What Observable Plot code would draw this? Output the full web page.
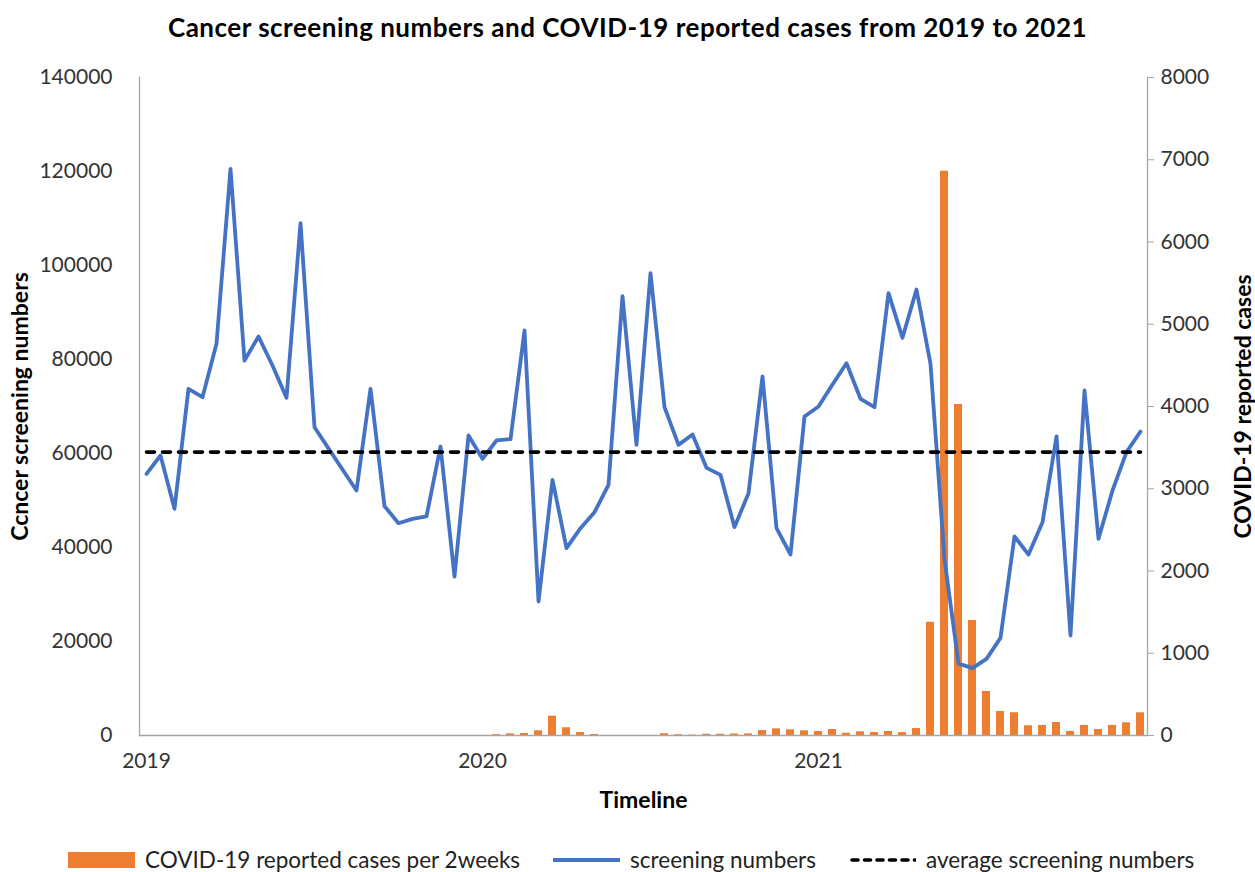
<!DOCTYPE html>
<html>
<head>
<meta charset="utf-8">
<script src="https://cdn.jsdelivr.net/npm/d3@7"></script>
<script src="https://cdn.jsdelivr.net/npm/@observablehq/plot@0.6"></script>
<style>
  html, body { margin: 0; padding: 0; background: #fff; width: 1255px; height: 872px; overflow: hidden; font-family: Lato, "Open Sans", sans-serif; }
  #title { position: absolute; top: 0; left: 0; width: 1255px; height: 50px; text-align: center; font-weight: bold; font-size: 26px; letter-spacing: 0.5px; line-height: 54px; color: #000; }
  #chart { position: absolute; top: 50px; left: 0; }
  #chart g[aria-label$="axis label"] text { font-weight: bold; fill: #000; font-size: 23px; }
  #legend { position: absolute; top: 846px; left: 68px; display: flex; align-items: center; gap: 33px; font-size: 22.5px; color: #222; white-space: nowrap; }
  #legend .item { display: flex; align-items: center; gap: 10px; }
</style>
</head>
<body>
<div id="title">Cancer screening numbers and COVID-19 reported cases from 2019 to 2021</div>
<div id="chart"></div>
<div id="legend"></div>
<script>
// ---- data (semi-monthly periods, 24 per year) ----
const years = ["2019", "2020", "2021"];
const yearTickLabels = ["2019", "2020", "2021"];

const screening = [
  55680, 59580, 48230, 73770, 71980, 83340, 120570, 79790, 84890, 78720, 71850, 109000,
  65600, 61100, 56600, 52130, 73770, 48790, 45170, 46100, 46600, 61490, 33830, 63830,
  58870, 62770, 63050, 86170, 28510, 54400, 39860, 44110, 47520, 53330, 93480, 61840,
  98370, 69860, 61840, 64040, 56950, 55460, 44330, 51560, 76380, 44110, 38510, 67870,
  70000, 74680, 79210, 71640, 69860, 94110, 84610, 94890, 79080, 37500, 15300, 14330,
  16310, 20780, 42340, 38510, 45390, 63620, 21280, 73400, 41850, 52130, 60280, 64680
];

const covidCases = [
  0, 0, 0, 0, 0, 0, 0, 0, 0, 0, 0, 0,
  0, 0, 0, 0, 0, 0, 0, 0, 0, 0, 0, 0,
  0, 10, 20, 25, 57, 235, 94, 36, 12, 0, 0, 0,
  0, 22, 10, 5, 15, 15, 18, 20, 60, 81, 69, 57,
  49, 73, 28, 45, 36, 49, 35, 85, 1377, 6860, 4024, 1398,
  535, 292, 277, 118, 122, 158, 49, 122, 73, 122, 154, 276
];

const averageScreening = 60300;

const leftTicks = [0, 20000, 40000, 60000, 80000, 100000, 120000, 140000];
const rightTicks = [0, 1000, 2000, 3000, 4000, 5000, 6000, 7000, 8000];

// ---- build table ----
const periods = years.flatMap(y => d3.range(1, 25).map(p => `${y}-${p}`));
const rows = periods.map((p, i) => ({period: p, screening: screening[i], cases: covidCases[i]}));
const leftMax = leftTicks[leftTicks.length - 1];
const rightMax = rightTicks[rightTicks.length - 1];
const k = leftMax / rightMax;
const yearTickPeriods = years.map(y => `${y}-1`);
const avgRows = [
  {period: periods[0], v: averageScreening},
  {period: periods[periods.length - 1], v: averageScreening}
];

const axisGray = "#A6A6A6";
const orange = "#ED7D31";
const blue = "#4472C4";

const plot = Plot.plot({
  width: 1255,
  height: 775,
  marginLeft: 139,
  marginRight: 108,
  marginTop: 27,
  marginBottom: 90,
  style: {fontFamily: "Lato, 'Open Sans', sans-serif", fontSize: "21px", color: "#333", background: "white"},
  x: {type: "band", domain: periods, paddingInner: 0.43, paddingOuter: 0.215},
  y: {domain: [0, leftMax]},
  marks: [
    Plot.barY(rows, {x: "period", y: d => d.cases * k, fill: orange}),
    Plot.frame({anchor: "left", stroke: axisGray, strokeWidth: 1.3}),
    Plot.frame({anchor: "right", stroke: axisGray, strokeWidth: 1.3}),
    Plot.frame({anchor: "bottom", stroke: axisGray, strokeWidth: 1.3}),
    Plot.lineY(rows, {x: "period", y: "screening", stroke: blue, strokeWidth: 3.8, strokeLinejoin: "round", strokeLinecap: "round"}),
    Plot.lineY(avgRows, {x: "period", y: "v", stroke: "#000", strokeWidth: 3.6, strokeDasharray: "8,8", strokeLinecap: "round"}),
    Plot.axisY(leftTicks, {anchor: "left", tickSize: 0, tickPadding: 27, tickFormat: d => String(d),
      label: "Ccncer screening numbers", labelAnchor: "center", labelOffset: 128, labelArrow: false}),
    Plot.axisY(rightTicks.map(v => v * k), {anchor: "right", tickSize: 6, stroke: axisGray, tickPadding: 7,
      tickFormat: d => String(Math.round(d / k)),
      label: "COVID-19 reported cases", labelAnchor: "center", labelOffset: 103, labelArrow: false}),
    Plot.axisX(yearTickPeriods, {anchor: "bottom", tickSize: 0, tickPadding: 18,
      tickFormat: (d, i) => yearTickLabels[i],
      label: "Timeline", labelAnchor: "center", labelOffset: 72, labelArrow: false})
  ]
});
document.getElementById("chart").appendChild(plot);

// ---- legend ----
const legend = d3.select("#legend");
const items = [
  {label: "COVID-19 reported cases per 2weeks", type: "rect"},
  {label: "screening numbers", type: "line"},
  {label: "average screening numbers", type: "dash"}
];
for (const it of items) {
  const div = legend.append("div").attr("class", "item");
  const svg = div.append("svg").attr("width", 67).attr("height", 16);
  if (it.type === "rect") svg.append("rect").attr("width", 67).attr("height", 16).attr("fill", orange);
  else if (it.type === "line") svg.append("line").attr("x1", 0).attr("x2", 67).attr("y1", 8).attr("y2", 8).attr("stroke", blue).attr("stroke-width", 3.8);
  else svg.append("line").attr("x1", 3).attr("x2", 66).attr("y1", 8).attr("y2", 8).attr("stroke", "#000").attr("stroke-width", 3.6).attr("stroke-dasharray", "6,6.5").attr("stroke-linecap", "round");
  div.append("span").text(it.label);
}
</script>
</body>
</html>
